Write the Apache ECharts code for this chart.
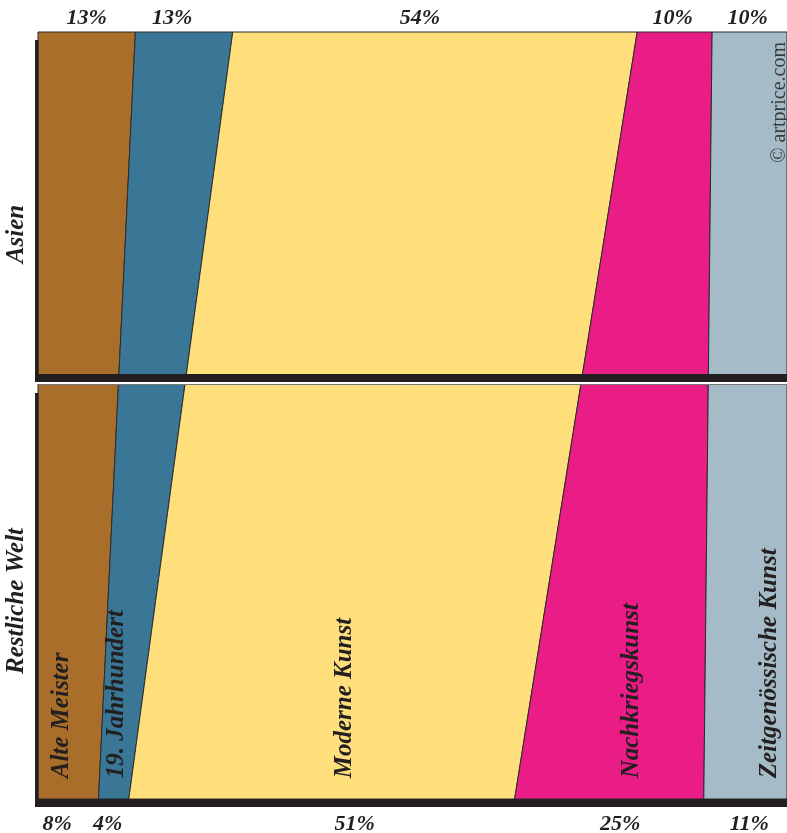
<!DOCTYPE html>
<html><head><meta charset="utf-8">
<script src="https://cdn.jsdelivr.net/npm/echarts@6/dist/echarts.min.js"></script>
<style>html,body{margin:0;padding:0;background:#fff}#c{width:787px;height:833px}</style>
</head><body><div id="c"></div>
<script>
// ---- data ----
const categories = ['Alte Meister', '19. Jahrhundert', 'Moderne Kunst', 'Nachkriegskunst', 'Zeitgenössische Kunst'];
const regions = ['Asien', 'Restliche Welt'];
const asiaShares = [13, 13, 54, 10, 10];
const restShares = [8, 4, 51, 25, 11];
const credit = '© artprice.com';

// ---- styles / layout ----
const colors = ['#A96F2A', '#3A7796', '#FEDF7C', '#EA1C85', '#A5BCC8'];
const FONT = '"Liberation Serif", "Times New Roman", serif';
const INK = '#231F20';
const topNudge = [0, -12, -15, -2, -2];
const botNudge = [-11, -6, 33, 11, 4];
const nameNudge = [-9, -6, 8, 14, 24];
const NAME_Y = 0.13;      // data-y at which category names are centred in their band
const NAME_BASE = 0.027;  // data-y where category names start

function cumulative(arr) {
  const tot = arr.reduce((a, b) => a + b, 0);
  const out = [0]; let s = 0;
  arr.forEach(v => { s += v; out.push(s / tot * 100); });
  return out;
}
const cumTop = cumulative(asiaShares);
const cumBot = cumulative(restShares);

function renderItem(params, api) {
  const i = api.value(0);
  const pts = [
    api.coord([cumTop[i], 1]), api.coord([cumTop[i + 1], 1]),
    api.coord([cumBot[i + 1], 0]), api.coord([cumBot[i], 0])
  ];
  const topC = api.coord([(cumTop[i] + cumTop[i + 1]) / 2, 1]);
  const botC = api.coord([(cumBot[i] + cumBot[i + 1]) / 2, 0]);
  const l = cumBot[i] + NAME_Y * (cumTop[i] - cumBot[i]);
  const r = cumBot[i + 1] + NAME_Y * (cumTop[i + 1] - cumBot[i + 1]);
  const nameC = api.coord([(l + r) / 2, NAME_BASE]);
  return {
    type: 'group',
    children: [
      { type: 'polygon', shape: { points: pts }, style: { fill: colors[i], stroke: '#2b2b2b', lineWidth: 1 } },
      { type: 'text', x: topC[0] + topNudge[i], y: topC[1] - 14,
        style: { text: asiaShares[i] + '%', font: 'italic bold 22px ' + FONT, fill: INK, align: 'center', verticalAlign: 'middle' } },
      { type: 'text', x: botC[0] + botNudge[i], y: botC[1] + 25,
        style: { text: restShares[i] + '%', font: 'italic bold 22px ' + FONT, fill: INK, align: 'center', verticalAlign: 'middle' } },
      { type: 'text', x: nameC[0] + nameNudge[i], y: nameC[1], rotation: Math.PI / 2,
        style: { text: categories[i], font: 'italic bold 25px ' + FONT, fill: INK, align: 'left', verticalAlign: 'middle' } }
    ]
  };
}

const chart = echarts.init(document.getElementById('c'), null, { renderer: 'canvas' });
chart.setOption({
  animation: false,
  backgroundColor: '#fff',
  grid: { left: 38, right: 0, top: 32, bottom: 34 },
  xAxis: { type: 'value', min: 0, max: 100, show: false },
  yAxis: { type: 'value', min: 0, max: 1, show: false },
  series: [{
    type: 'custom',
    renderItem: renderItem,
    data: categories.map((c, i) => [i]),
    clip: false
  }],
  graphic: [
    { type: 'rect', z: 100, shape: { x: 35, y: 40, width: 3.5, height: 342 }, style: { fill: INK } },
    { type: 'rect', z: 100, shape: { x: 35, y: 374, width: 752, height: 8 }, style: { fill: INK } },
    { type: 'rect', z: 100, shape: { x: 35, y: 382, width: 752, height: 2 }, style: { fill: '#fff' } },
    { type: 'line', z: 100, shape: { x1: 38, y1: 384.5, x2: 787, y2: 384.5 }, style: { stroke: '#777', lineWidth: 1 } },
    { type: 'rect', z: 100, shape: { x: 35, y: 393, width: 3.5, height: 414 }, style: { fill: INK } },
    { type: 'rect', z: 100, shape: { x: 35, y: 799, width: 752, height: 8 }, style: { fill: INK } },
    { type: 'text', z: 100, x: 17, y: 234, rotation: Math.PI / 2,
      style: { text: regions[0], font: 'italic bold 25px ' + FONT, fill: INK, align: 'center', verticalAlign: 'middle' } },
    { type: 'text', z: 100, x: 17, y: 601, rotation: Math.PI / 2,
      style: { text: regions[1], font: 'italic bold 25px ' + FONT, fill: INK, align: 'center', verticalAlign: 'middle' } },
    { type: 'text', z: 100, x: 780, y: 42, rotation: Math.PI / 2,
      style: { text: credit, font: '20px ' + FONT, fill: '#3a3a3a', align: 'right', verticalAlign: 'middle' } }
  ]
});
</script></body></html>
